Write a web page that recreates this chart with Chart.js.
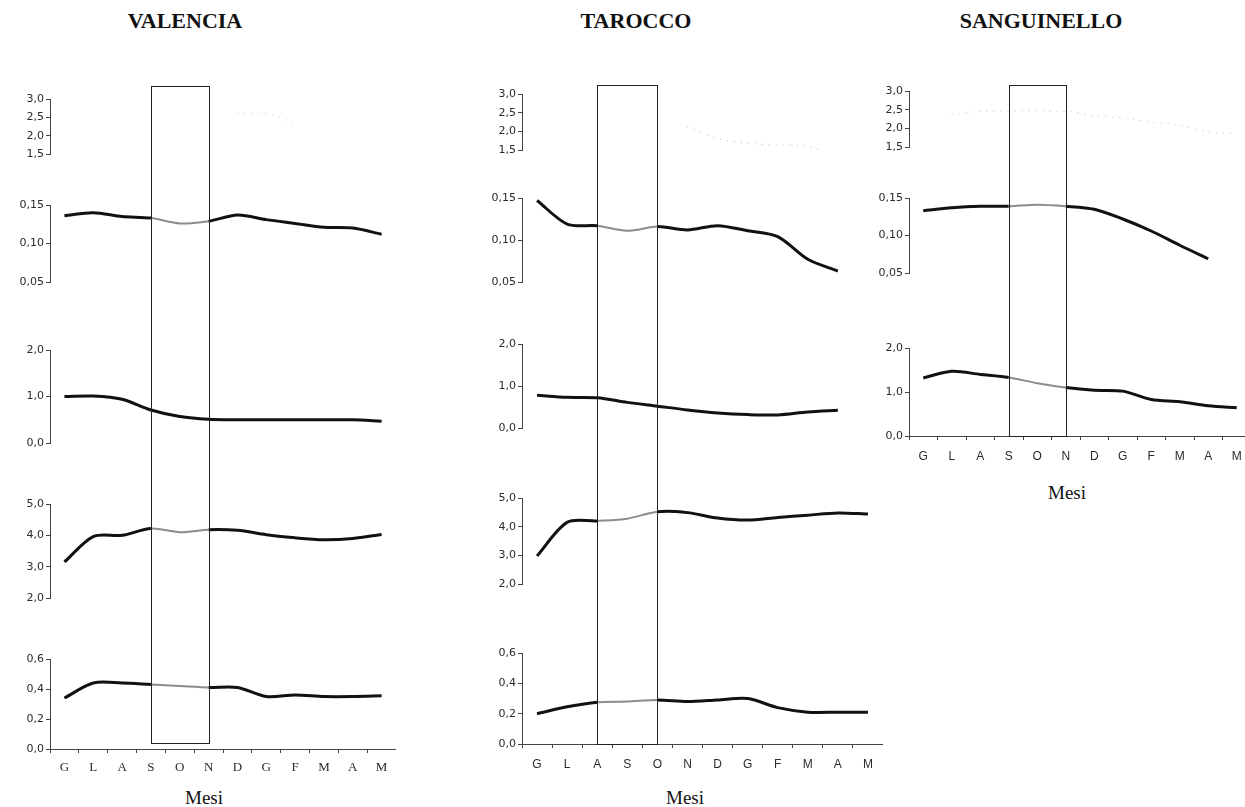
<!DOCTYPE html>
<html lang="it">
<head>
    <meta charset="UTF-8">
    <title>Valencia, Tarocco, Sanguinello</title>
    <script src="https://cdn.jsdelivr.net/npm/chart.js"></script>
    <style>
        body {
            margin: 0;
            width: 1245px;
            height: 807px;
            overflow: hidden;
            position: relative;
            background: #fff;
        }
        canvas { position: absolute; top: 0; }
        .title {
            position: absolute;
            top: 10px;
            width: 240px;
            text-align: center;
            font: bold 22px "Liberation Serif", serif;
            line-height: 22px;
            color: #111;
        }
        .mesi {
            position: absolute;
            width: 100px;
            text-align: center;
            font: 19px "Liberation Serif", serif;
            line-height: 19px;
            color: #111;
        }
    </style>
</head>
<body>

    <div class="title" style="left:65px">VALENCIA</div>
    <div class="title" style="left:516px">TAROCCO</div>
    <div class="title" style="left:921px">SANGUINELLO</div>

    <canvas id="valencia" width="386" height="779" style="left:10px"></canvas>
    <canvas id="tarocco" width="401" height="774" style="left:482px"></canvas>
    <canvas id="sanguinello" width="382" height="466" style="left:869px"></canvas>

    <div class="mesi" style="left:154px; top:788px">Mesi</div>
    <div class="mesi" style="left:635px; top:788px">Mesi</div>
    <div class="mesi" style="left:1017px; top:483px">Mesi</div>

    <script>
        // Months (x axis)
        const months = ['G', 'L', 'A', 'S', 'O', 'N', 'D', 'G', 'F', 'M', 'A', 'M'];

        // Tick labels of the stacked panels
        const ticksTop = [1.5, 2.0, 2.5, 3.0];
        const ticksSmall = [0.05, 0.10, 0.15];
        const ticksTwo = [0.0, 1.0, 2.0];
        const ticksFive = [2.0, 3.0, 4.0, 5.0];
        const ticksSix = [0.0, 0.2, 0.4, 0.6];

        // Highlighted months (index of first and last month in the box)
        const valenciaBox = [3, 5];   // S .. N
        const taroccoBox = [2, 4];    // A .. O
        const sanguinelloBox = [3, 5];

        // Valencia series
        const valenciaTop = [null, null, null, null, null, null, 2.62, 2.60, 2.35, null, null, null];
        const valenciaA = [0.136, 0.140, 0.135, 0.133, 0.126, 0.129, 0.137, 0.131, 0.126, 0.121, 0.120, 0.112];
        const valenciaB = [1.00, 1.01, 0.94, 0.71, 0.57, 0.51, 0.50, 0.50, 0.50, 0.50, 0.50, 0.47];
        const valenciaC = [3.15, 3.96, 4.00, 4.22, 4.10, 4.18, 4.16, 4.02, 3.92, 3.86, 3.90, 4.03];
        const valenciaD = [0.34, 0.44, 0.44, 0.43, 0.42, 0.41, 0.41, 0.35, 0.36, 0.35, 0.35, 0.355];

        // Tarocco series
        const taroccoTop = [null, null, null, null, null, 2.12, 1.80, 1.68, 1.63, 1.60, 1.30, null];
        const taroccoA = [0.147, 0.119, 0.117, 0.111, 0.116, 0.112, 0.117, 0.111, 0.104, 0.077, 0.063, null];
        const taroccoB = [0.78, 0.73, 0.72, 0.61, 0.52, 0.43, 0.36, 0.32, 0.31, 0.38, 0.42, null];
        const taroccoC = [2.98, 4.15, 4.20, 4.28, 4.52, 4.49, 4.30, 4.23, 4.32, 4.40, 4.48, 4.44];
        const taroccoD = [0.20, 0.245, 0.275, 0.28, 0.29, 0.28, 0.29, 0.30, 0.24, 0.21, 0.21, 0.21];

        // Sanguinello series
        const sanguinelloTop = [null, 2.36, 2.45, null, null, 2.45, 2.34, 2.28, 2.17, 2.08, 1.90, 1.87];
        const sanguinelloA = [0.133, 0.137, 0.139, 0.139, 0.141, 0.139, 0.135, 0.122, 0.106, 0.087, 0.069, null];
        const sanguinelloB = [1.32, 1.47, 1.40, 1.33, 1.20, 1.10, 1.04, 1.02, 0.83, 0.78, 0.69, 0.64];

        const axisColor = '#444';
        const textColor = '#2b2b2b';

        // Draws the tall open rectangle over the highlighted months
        const boxPlugin = {
            id: 'monthBox',
            afterDatasetsDraw(chart, args, opts) {
                const x = chart.scales.x;
                const area = chart.chartArea;
                const left = x.getPixelForValue(opts.range[0]);
                const right = x.getPixelForValue(opts.range[1]);
                const ctx = chart.ctx;
                ctx.save();
                ctx.strokeStyle = '#222';
                ctx.lineWidth = 1;
                ctx.strokeRect(Math.round(left) + 0.5, area.top + 0.5,
                    Math.round(right - left), area.bottom - area.top - opts.bottomGap);
                ctx.restore();
            }
        };

        function fmt(dec) {
            return v => v.toFixed(dec).replace('.', ',');
        }

        function buildColumn(id, cfg) {
            const box = cfg.box;
            const inBox = c => c.p0DataIndex >= box[0] && c.p1DataIndex <= box[1];

            const scales = {
                x: {
                    type: 'category',
                    labels: months,
                    offset: true,
                    grid: {
                        offset: true,
                        drawOnChartArea: false,
                        tickLength: 4,
                        color: axisColor
                    },
                    border: { display: true, color: axisColor },
                    ticks: {
                        color: textColor,
                        padding: cfg.monthPad,
                        maxRotation: 0,
                        autoSkip: false,
                        font: cfg.monthFont
                    },
                    afterFit: s => { s.height = 30; }
                }
            };
            const datasets = [];

            const items = [];
            cfg.panels.forEach((p, i) => {
                items.push({ key: 'gap' + i, size: cfg.gaps[i] });
                items.push({ key: 'y' + i, size: cfg.heights[i], panel: p });
            });

            items.forEach((it, k) => {
                const weight = items.length - k;   // higher weight = higher in the stack
                if (!it.panel) {
                    scales[it.key] = {
                        type: 'linear', position: 'left', stack: 'col',
                        stackWeight: it.size, weight: weight,
                        ticks: { display: false },
                        grid: { display: false },
                        border: { display: false }
                    };
                    return;
                }
                const p = it.panel;
                scales[it.key] = {
                    type: 'linear', position: 'left', stack: 'col',
                    stackWeight: it.size, weight: weight,
                    min: p.ticks[0],
                    max: p.ticks[p.ticks.length - 1],
                    afterBuildTicks: s => { s.ticks = p.ticks.map(v => ({ value: v })); },
                    afterFit: s => { s.width = 40; },
                    grid: {
                        drawOnChartArea: false,
                        tickLength: 4,
                        color: axisColor
                    },
                    border: { display: true, color: axisColor },
                    ticks: {
                        color: textColor,
                        padding: 2,
                        autoSkip: false,
                        font: { family: 'DejaVu Sans', size: 11 },
                        callback: fmt(p.dec)
                    }
                };
                if (p.faint) {
                    datasets.push({
                        data: p.data,
                        yAxisID: it.key,
                        borderColor: p.faint,
                        borderWidth: 1.2,
                        borderDash: [1, 6],
                        pointRadius: 0,
                        spanGaps: true,
                        tension: 0.3
                    });
                } else {
                    const dim = p.dim !== false;
                    datasets.push({
                        data: p.data,
                        yAxisID: it.key,
                        borderColor: '#111',
                        borderWidth: 3,
                        pointRadius: 0,
                        tension: 0.3,
                        segment: {
                            borderColor: c => dim && inBox(c) ? '#8c8c8c' : undefined,
                            borderWidth: c => dim && inBox(c) ? 2 : undefined
                        }
                    });
                }
            });

            return new Chart(document.getElementById(id), {
                type: 'line',
                data: { labels: months, datasets: datasets },
                options: {
                    responsive: false,
                    animation: false,
                    layout: { padding: { top: cfg.top, left: 0, right: 0, bottom: 0 } },
                    scales: scales,
                    plugins: {
                        legend: { display: false },
                        tooltip: { enabled: false },
                        monthBox: { range: box, bottomGap: cfg.bottomGap }
                    }
                },
                plugins: [boxPlugin]
            });
        }

        buildColumn('valencia', {
            box: valenciaBox,
            top: 86,
            bottomGap: 6,
            monthPad: 7,
            monthFont: { family: 'Liberation Serif', size: 13 },
            gaps: [13, 51, 68, 61, 61],
            heights: [55, 77, 93, 94, 90],
            panels: [
                { data: valenciaTop, ticks: ticksTop, dec: 1, faint: '#d4d4d4' },
                { data: valenciaA, ticks: ticksSmall, dec: 2 },
                { data: valenciaB, ticks: ticksTwo, dec: 1, dim: false },
                { data: valenciaC, ticks: ticksFive, dec: 1 },
                { data: valenciaD, ticks: ticksSix, dec: 1 }
            ]
        });

        buildColumn('tarocco', {
            box: taroccoBox,
            top: 85,
            bottomGap: 0,
            monthPad: 9,
            monthFont: { family: 'Liberation Sans', size: 12 },
            gaps: [9, 48, 62, 70, 69],
            heights: [56, 84, 84, 86, 91],
            panels: [
                { data: taroccoTop, ticks: ticksTop, dec: 1, faint: '#c2c2c2' },
                { data: taroccoA, ticks: ticksSmall, dec: 2 },
                { data: taroccoB, ticks: ticksTwo, dec: 1, dim: false },
                { data: taroccoC, ticks: ticksFive, dec: 1 },
                { data: taroccoD, ticks: ticksSix, dec: 1 }
            ]
        });

        buildColumn('sanguinello', {
            box: sanguinelloBox,
            top: 85,
            bottomGap: 0,
            monthPad: 9,
            monthFont: { family: 'Liberation Sans', size: 12 },
            gaps: [6, 51, 75],
            heights: [56, 75, 88],
            panels: [
                { data: sanguinelloTop, ticks: ticksTop, dec: 1, faint: '#cacaca' },
                { data: sanguinelloA, ticks: ticksSmall, dec: 2 },
                { data: sanguinelloB, ticks: ticksTwo, dec: 1 }
            ]
        });
    </script>

</body>
</html>
